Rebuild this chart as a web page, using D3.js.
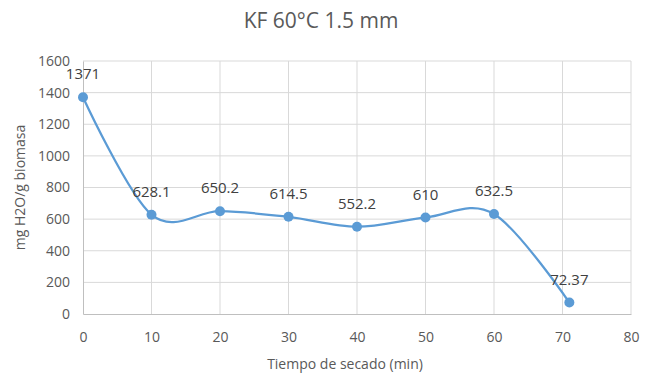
<!DOCTYPE html>
<html>
<head>
<meta charset="utf-8">
<script src="https://cdn.jsdelivr.net/npm/d3@7"></script>
<style>
  body { margin: 0; background: #fff; }
  text { font-family: "Open Sans", "Noto Sans", sans-serif; }
</style>
</head>
<body>
<div id="chart"></div>
<script>
const times = [0, 10, 20, 30, 40, 50, 60, 71];
const moisture = [1371, 628.1, 650.2, 614.5, 552.2, 610, 632.5, 72.37];
const pointLabels = ["1371", "628.1", "650.2", "614.5", "552.2", "610", "632.5", "72.37"];
const xTicks = [0, 10, 20, 30, 40, 50, 60, 70, 80];
const yTicks = [0, 200, 400, 600, 800, 1000, 1200, 1400, 1600];

const width = 653, height = 375;
const margin = {top: 61, right: 22, bottom: 61, left: 83};
const innerW = width - margin.left - margin.right;
const innerH = height - margin.top - margin.bottom;

let svg = d3.select('#chart')
    .append("svg")
    .attr("width", width)
    .attr("height", height);

let g = svg.append("g")
    .attr("transform", `translate(${margin.left}, ${margin.top})`);

let x = d3.scaleLinear().domain([0, 80]).range([0, innerW]);
let y = d3.scaleLinear().domain([0, 1600]).range([innerH, 0]);

// gridlines
g.append("g").selectAll("line").data(yTicks.slice(1)).enter()
    .append("line")
    .attr("x1", 0).attr("x2", innerW)
    .attr("y1", d => y(d)).attr("y2", d => y(d))
    .attr("stroke", "#d9d9d9").attr("stroke-width", 1);

g.append("g").selectAll("line").data(xTicks.slice(1)).enter()
    .append("line")
    .attr("y1", 0).attr("y2", innerH)
    .attr("x1", d => x(d)).attr("x2", d => x(d))
    .attr("stroke", "#d9d9d9").attr("stroke-width", 1);

// axes
let xAxis = g.append("g")
    .attr("transform", `translate(0, ${innerH})`)
    .call(d3.axisBottom(x).tickValues(xTicks).tickSize(0).tickPadding(18).tickFormat(d3.format("d")));
let yAxis = g.append("g")
    .call(d3.axisLeft(y).tickValues(yTicks).tickSize(0).tickPadding(13).tickFormat(d3.format("d")));

[xAxis, yAxis].forEach(a => {
    a.select(".domain").attr("stroke", "#bfbfbf");
    a.selectAll("text").attr("fill", "#595959").style("font-size", "14px");
});

// line (Excel style smoothing)
let line = d3.line()
    .x((d, i) => x(times[i]))
    .y(d => y(d))
    .curve(d3.curveCardinal.tension(0));

g.append("path")
    .datum(moisture)
    .attr("fill", "none")
    .attr("stroke", "#5b9bd5")
    .attr("stroke-width", 2.25)
    .attr("d", line);

g.selectAll("circle.pt").data(moisture).enter()
    .append("circle")
    .attr("class", "pt")
    .attr("cx", (d, i) => x(times[i]))
    .attr("cy", d => y(d))
    .attr("r", 5)
    .attr("fill", "#5b9bd5");

g.selectAll("text.lbl").data(moisture).enter()
    .append("text")
    .attr("class", "lbl")
    .attr("x", (d, i) => x(times[i]))
    .attr("y", d => y(d) - 18)
    .style("text-anchor", "middle")
    .style("font-size", "15px")
    .attr("fill", "#404040")
    .text((d, i) => pointLabels[i]);

// titles
svg.append("text")
    .attr("x", 321).attr("y", 28)
    .style("text-anchor", "middle")
    .style("font-size", "21px")
    .attr("fill", "#595959")
    .text("KF 60°C 1.5 mm");

svg.append("text")
    .attr("x", 345).attr("y", 369)
    .style("text-anchor", "middle")
    .style("font-size", "14px")
    .attr("fill", "#595959")
    .text("Tiempo de secado (min)");

svg.append("text")
    .attr("transform", `translate(25, ${margin.top + innerH / 2}) rotate(-90)`)
    .style("text-anchor", "middle")
    .style("font-size", "14px")
    .attr("fill", "#595959")
    .text("mg H2O/g biomasa");
</script>
</body>
</html>
